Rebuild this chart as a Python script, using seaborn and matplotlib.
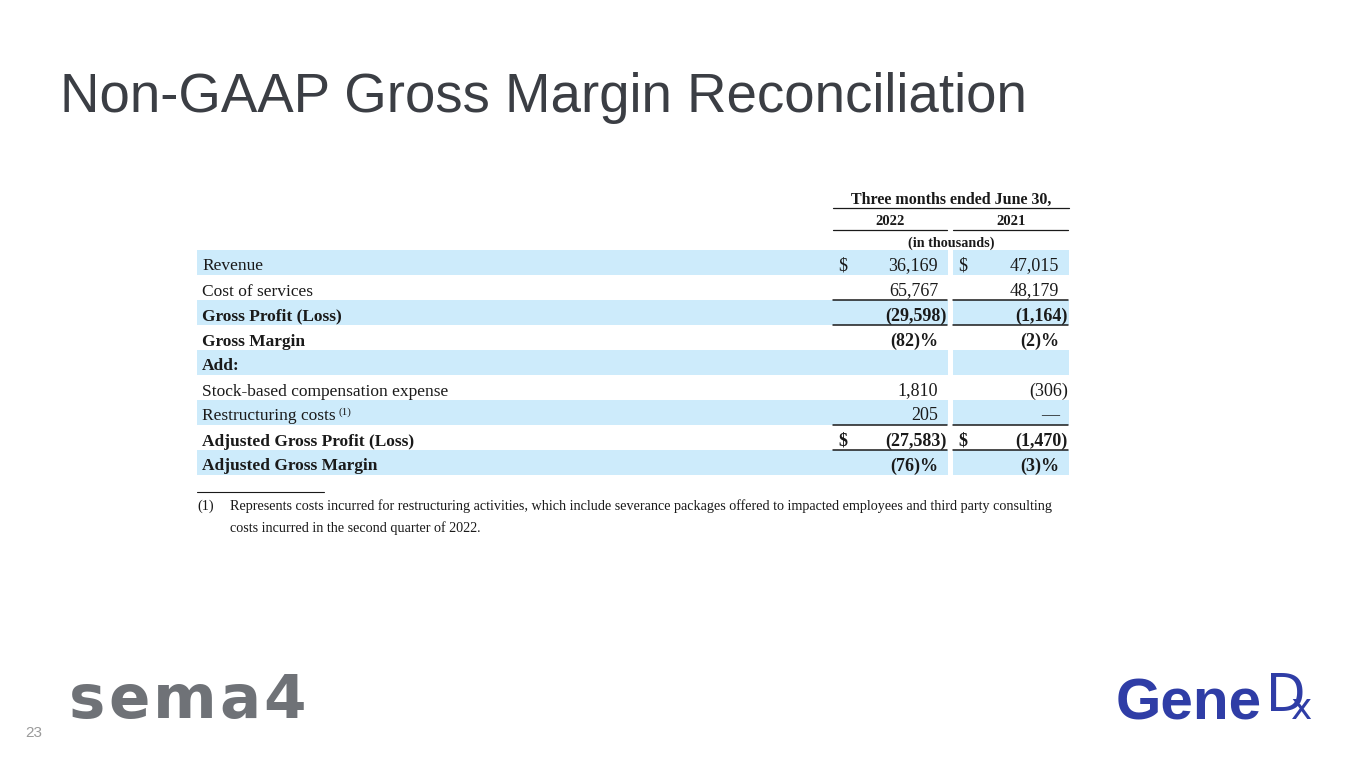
import matplotlib.pyplot as plt
import seaborn as sns

# --- Table content ---
title = "Non-GAAP Gross Margin Reconciliation"
period_header = "Three months ended June 30,"
years = ["2022", "2021"]
unit_note = "(in thousands)"
row_labels = [
    "Revenue",
    "Cost of services",
    "Gross Profit (Loss)",
    "Gross Margin",
    "Add:",
    "Stock-based compensation expense",
    "Restructuring costs",
    "Adjusted Gross Profit (Loss)",
    "Adjusted Gross Margin",
]
bold_rows = [False, False, True, True, True, False, False, True, True]
values_2022 = ["36,169", "65,767", "(29,598)", "(82)%", "", "1,810", "205", "(27,583)", "(76)%"]
values_2021 = ["47,015", "48,179", "(1,164)", "(2)%", "", "(306)", "\u2014", "(1,470)", "(3)%"]
dollar_rows = [0, 7]
shaded_rows = [0, 2, 4, 6, 8]
ruled_rows = [2, 7]
footnote_rows = [6]
footnote_mark = "(1)"
footnote_lines = [
    "Represents costs incurred for restructuring activities, which include severance packages offered to impacted employees and third party consulting",
    "costs incurred in the second quarter of 2022.",
]
page_number = "23"
left_logo = "sema4"
right_logo = ["Gene", r"$\mathsf{D}\hspace{-0.3}{}_{\mathsf{x}}$"]

# --- Style ---
sns.set_theme(style="white")
plt.rcParams["font.family"] = ["Liberation Serif", "DejaVu Serif"]
plt.rcParams["mathtext.fontset"] = "dejavusans"

BAND = "#cdebfb"
INK = "#1a1a1a"
ROW_TOP, ROW_H = 250, 25
LABEL_X = 202
COLS = [(833, 948), (953, 1069)]

fig = plt.figure(figsize=(13.65, 7.68), dpi=100)
ax = fig.add_axes([0, 0, 1, 1])
ax.set_xlim(0, 1365)
ax.set_ylim(768, 0)
ax.axis("off")

fig.canvas.draw()
renderer = fig.canvas.get_renderer()
inv = ax.transData.inverted()


def right_edge(t):
    bb = t.get_window_extent(renderer=renderer)
    return inv.transform((bb.x1, bb.y1))[0]


# title
ax.text(60, 112, title, fontsize=39.3, color="#3b3e44", va="baseline", ha="left",
        family=["Liberation Sans", "DejaVu Sans"])

# --- shaded row bands ---
centers = [ROW_TOP + ROW_H * (i + 0.5) for i in shaded_rows]
ax.barh(centers, [COLS[0][1] - 197] * len(centers), left=197, height=ROW_H,
        color=BAND, linewidth=0)
ax.barh(centers, [COLS[1][1] - COLS[1][0]] * len(centers), left=COLS[1][0],
        height=ROW_H, color=BAND, linewidth=0)

# --- headers ---
mid = (COLS[0][0] + COLS[1][1]) / 2
ax.text(mid, 204, period_header, fontsize=11.5, fontweight="bold", ha="center",
        va="baseline", color=INK)
ax.plot([COLS[0][0], COLS[1][1]], [208, 208], color=INK, lw=0.9)
for (l, r), yr in zip(COLS, years):
    ax.text((l + r) / 2, 225, yr, fontsize=10.5, fontweight="bold", ha="center",
            va="baseline", color=INK)
    ax.plot([l, r - 1], [230, 230], color=INK, lw=0.9)
ax.text(mid, 247, unit_note, fontsize=10.2, fontweight="bold", ha="center",
        va="baseline", color=INK)

# --- rows ---
for i, label in enumerate(row_labels):
    base = ROW_TOP + ROW_H * i + 20.5
    weight = "bold" if bold_rows[i] else "normal"
    t = ax.text(LABEL_X, base, label, fontsize=12.5, fontweight=weight,
                ha="left", va="baseline", color=INK)
    if i in footnote_rows:
        ax.text(right_edge(t) + 3, base - 6, footnote_mark, fontsize=8,
                ha="left", va="baseline", color=INK)
    for (l, r), vals in zip(COLS, [values_2022, values_2021]):
        v = vals[i]
        if i in dollar_rows:
            ax.text(l + 5, base, "$", fontsize=13, fontweight=weight,
                    ha="left", va="baseline", color=INK)
        if v:
            x = r - 1 if v.endswith(")") else r - 10
            ax.text(x, base, v, fontsize=13, fontweight=weight, ha="right",
                    va="baseline", color=INK)

# underline rules around subtotal rows
for i in ruled_rows:
    for l, r in COLS:
        for y in (ROW_TOP + ROW_H * i, ROW_TOP + ROW_H * (i + 1)):
            ax.plot([l, r - 1], [y, y], color=INK, lw=1.1)

# --- footnote ---
ax.plot([197, 324], [492, 492], color=INK, lw=0.8)
ax.text(197, 510, footnote_mark, fontsize=10.2, ha="left", va="baseline", color=INK)
for k, line in enumerate(footnote_lines):
    ax.text(230, 510 + 22 * k, line, fontsize=10.2, ha="left", va="baseline", color=INK)

# --- footer ---
ax.text(25, 733, page_number, fontsize=11, color="#9a9a9a", ha="left", va="center",
        family=["Liberation Sans", "DejaVu Sans"])

# sema4 wordmark, letters spread out to span the logo width
x = 69
for ch in left_logo:
    t = ax.text(x, 718, ch, fontsize=44, fontweight="bold", color="#6f7277",
                ha="left", va="baseline", family=["DejaVu Sans"])
    x = right_edge(t) + 3

# GeneDx wordmark: bold "Gene", "D" with a lowered "x" tucked into it
gene = ax.text(1116, 719, right_logo[0], fontsize=42, fontweight="bold",
               color="#2f3da6", ha="left", va="baseline",
               family=["Liberation Sans", "DejaVu Sans"])
ax.text(right_edge(gene) + 3, 712, right_logo[1], fontsize=37,
        color="#2f3da6", ha="left", va="baseline", family=["DejaVu Sans"])

fig.savefig("out.png", dpi=100)
